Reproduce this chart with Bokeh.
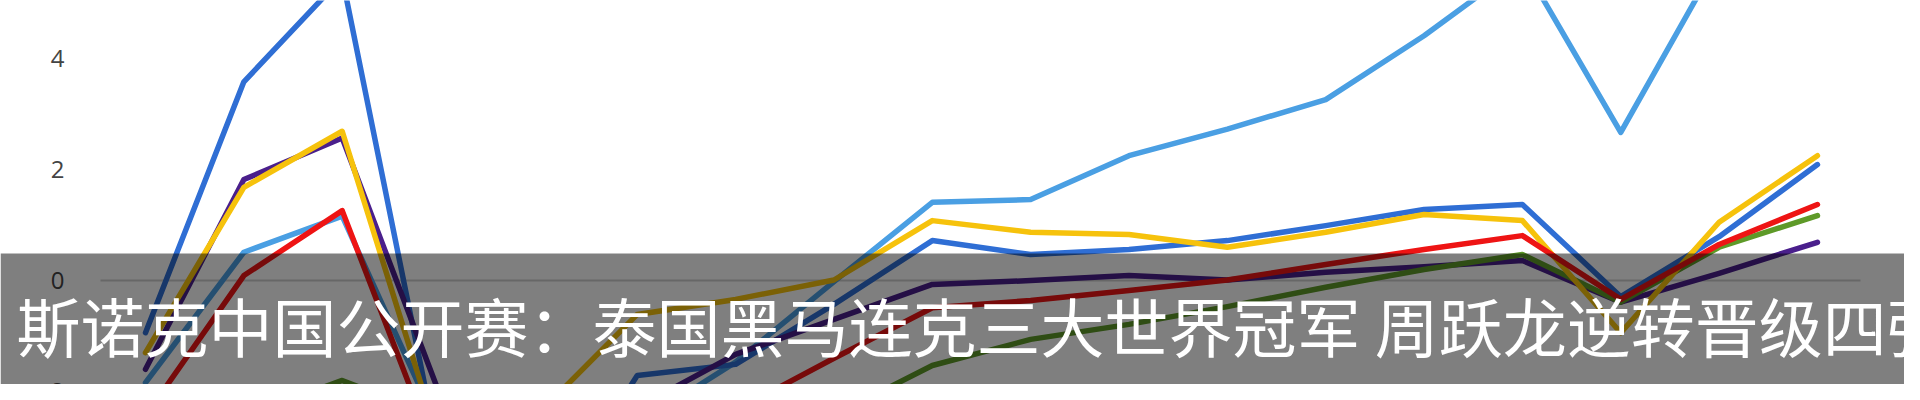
from bokeh.plotting import figure
from bokeh.models import Range1d, FixedTicker, BoxAnnotation
from bokeh.core.properties import value
from bokeh.embed import file_html
from bokeh.resources import INLINE

# ---- data ----
points = list(range(18))
y_ticks = [-2, 0, 2, 4]
y_tick_labels = ["-2", "0", "2", "4"]

light_blue = [-1.85, 0.50, 1.15, -2.75, -3.00, -2.60, -1.48, -0.03, 1.40, 1.45, 2.24, 2.72, 3.25, 4.40, 5.70, 2.66, 5.80, 6.30]
dark_blue = [-0.95, 3.57, 5.45, -3.30, -4.50, -1.72, -1.52, -0.44, 0.71, 0.46, 0.55, 0.71, 0.98, 1.27, 1.36, -0.30, 0.78, 2.08]
purple = [-1.61, 1.81, 2.56, -2.10, -2.80, -2.30, -1.34, -0.71, -0.08, -0.01, 0.08, 0.00, 0.14, 0.24, 0.35, -0.40, 0.12, 0.68]
green = [-2.90, -2.45, -1.81, -2.50, -2.90, -3.20, -3.00, -2.44, -1.54, -1.07, -0.80, -0.48, -0.13, 0.19, 0.46, -0.40, 0.59, 1.16]
yellow = [-1.31, 1.67, 2.68, -3.00, -2.40, -0.62, -0.35, 0.00, 1.07, 0.86, 0.82, 0.59, 0.86, 1.18, 1.07, -0.95, 1.04, 2.24]
red = [-2.45, 0.08, 1.25, -3.35, -3.40, -3.00, -2.35, -1.41, -0.50, -0.37, -0.19, 0.00, 0.28, 0.55, 0.80, -0.35, 0.64, 1.36]

series = [
    (light_blue, "#4a9fe3"),
    (dark_blue, "#2f6ed4"),
    (purple, "#4a1f8c"),
    (green, "#5e9a28"),
    (yellow, "#f6c20c"),
    (red, "#ee1414"),
]

caption = "斯诺克中国公开赛：泰国黑马连克三大世界冠军 周跃龙逆转晋级四强"

# ---- layout constants (pixel mapping of the cropped chart) ----
X_FIRST, X_STEP = 153.0, 98.35        # page px of first category, px per category
Y_ZERO, Y_UNIT = 287.5, 55.5          # page px of value 0, px per unit
PAGE_L, PAGE_R, PAGE_T, PAGE_B = 8, 1912, 8, 392


def px_to_x(px):
    return (px - X_FIRST) / X_STEP


def py_to_y(py):
    return (Y_ZERO - py) / Y_UNIT


p = figure(width=PAGE_R - PAGE_L, height=PAGE_B - PAGE_T, output_backend="svg",
           toolbar_location=None,
           x_range=Range1d(px_to_x(PAGE_L), px_to_x(PAGE_R)),
           y_range=Range1d(py_to_y(PAGE_B), py_to_y(PAGE_T)),
           min_border=0)
p.outline_line_color = None
p.background_fill_color = "white"
p.border_fill_color = "white"
p.xaxis.visible = False
p.yaxis.visible = False
p.xgrid.visible = False

# zero baseline of the chart
g = p.ygrid[0]
g.ticker = FixedTicker(ticks=[0])
g.grid_line_color = "#cfcfcf"
g.grid_line_width = 2
try:
    g.cross_bounds = (px_to_x(108), px_to_x(1868))
except Exception:
    pass

# y tick labels of the (cropped) value axis
p.text(x=[px_to_x(72)] * len(y_ticks), y=y_ticks, text=y_tick_labels,
       text_font=value("Open Sans"), text_font_size="24px", text_color="#444444",
       text_align="right", text_baseline="middle")

for vals, col in series:
    p.line(points, vals, line_color=col, line_width=5.5, line_join="round", line_cap="round")

band = BoxAnnotation(bottom=py_to_y(PAGE_B + 20), top=py_to_y(261),
                     fill_color="black", fill_alpha=0.5, line_alpha=0)
p.add_layout(band)

p.text(x=[px_to_x(24)], y=[py_to_y(331)], text=[caption],
       text_font=value("Noto Sans CJK SC"), text_font_size="64px",
       text_color="white", text_align="left", text_baseline="middle",
       level="overlay")

open("out.html", "w").write(file_html(p, INLINE))
